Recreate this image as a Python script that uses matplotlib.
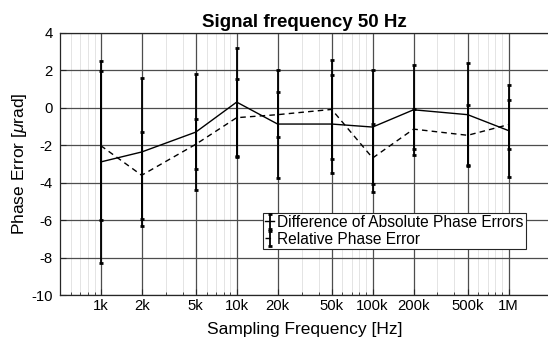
import matplotlib
matplotlib.use("Agg")
import matplotlib.pyplot as plt
import numpy as np
from matplotlib.ticker import FixedLocator, LogLocator, NullFormatter

plt.rcParams["font.family"] = ["Liberation Sans", "DejaVu Sans"]
plt.rcParams["axes.unicode_minus"] = False
plt.rcParams["mathtext.fontset"] = "custom"
plt.rcParams["mathtext.rm"] = "Liberation Sans"
plt.rcParams["mathtext.it"] = "Liberation Sans:italic"

# Sampling frequencies [Hz]
fs = [1e3, 2e3, 5e3, 1e4, 2e4, 5e4, 1e5, 2e5, 5e5, 1e6]
tick_labels = ["1k", "2k", "5k", "10k", "20k", "50k", "100k", "200k", "500k", "1M"]

# Difference of absolute phase errors [urad] and its uncertainty
diff_abs = [-2.89, -2.36, -1.30, 0.30, -0.87, -0.87, -1.03, -0.11, -0.37, -1.22]
diff_abs_err = [5.40, 3.96, 3.11, 2.87, 2.87, 2.61, 3.02, 2.40, 2.74, 2.45]

# Relative phase error [urad] and its uncertainty
rel = [-2.02, -3.60, -1.95, -0.53, -0.37, -0.09, -2.68, -1.14, -1.47, -0.90]
rel_err = [3.96, 2.32, 1.33, 2.08, 1.20, 2.66, 1.81, 1.06, 1.59, 1.30]

W, H = 548, 341
fig = plt.figure(figsize=(W / 100, H / 100), dpi=100)
left, right = 59.8, 549.5
top, bottom = 32.7, 295.3
ax = fig.add_axes([left / W, 1 - bottom / H, (right - left) / W, (bottom - top) / H])

ax.set_xscale("log")
ax.set_xlim(500, 2e6)
ax.set_ylim(-10, 4)

ax.errorbar(fs, diff_abs, yerr=diff_abs_err, color="black", linewidth=1.0,
            elinewidth=1.3, capsize=1.6, capthick=2.0,
            label="Difference of Absolute Phase Errors", zorder=4)
ax.errorbar(fs, rel, yerr=rel_err, color="black", linewidth=1.0,
            linestyle=(0, (4, 3)), elinewidth=1.3, capsize=1.6, capthick=2.0,
            label="Relative Phase Error", zorder=4)

ax.xaxis.set_major_locator(FixedLocator(fs))
ax.set_xticklabels(tick_labels)
ax.xaxis.set_minor_locator(LogLocator(base=10, subs=np.arange(2, 10), numticks=20))
ax.xaxis.set_minor_formatter(NullFormatter())
ax.set_yticks(np.arange(-10, 5, 2))

ax.grid(True, which="major", color="#4d4d4d", linewidth=0.9, zorder=1)
ax.grid(True, which="minor", axis="x", color="#e4e4e4", linewidth=0.7, zorder=0)
ax.set_axisbelow(True)

ax.tick_params(which="both", direction="in", top=False, right=False,
               labelsize=10.7, colors="#262626", labelcolor="black")
ax.tick_params(axis="x", which="major", pad=3)
ax.tick_params(axis="y", which="major", pad=5)
ax.tick_params(which="major", length=4, width=0.8)
ax.tick_params(which="minor", length=2.5, width=0.6)
for s in ax.spines.values():
    s.set_color("#262626")
    s.set_linewidth(0.9)

ax.set_title("Signal frequency 50 Hz", fontsize=13.5, fontweight="bold", pad=4)
ax.set_xlabel("Sampling Frequency [Hz]", fontsize=12.5, labelpad=6)
ax.set_ylabel(r"Phase Error [$\mu$rad]", fontsize=12.5, labelpad=1.5)

leg = ax.legend(loc="lower right", bbox_to_anchor=(0.951, 0.176), borderaxespad=0,
                fontsize=11.2, handlelength=0.6, handletextpad=0.15, borderpad=0.15,
                labelspacing=0.12, fancybox=False, framealpha=1, edgecolor="#262626")
leg.get_frame().set_linewidth(0.8)

fig.savefig("out.png", dpi=100)
